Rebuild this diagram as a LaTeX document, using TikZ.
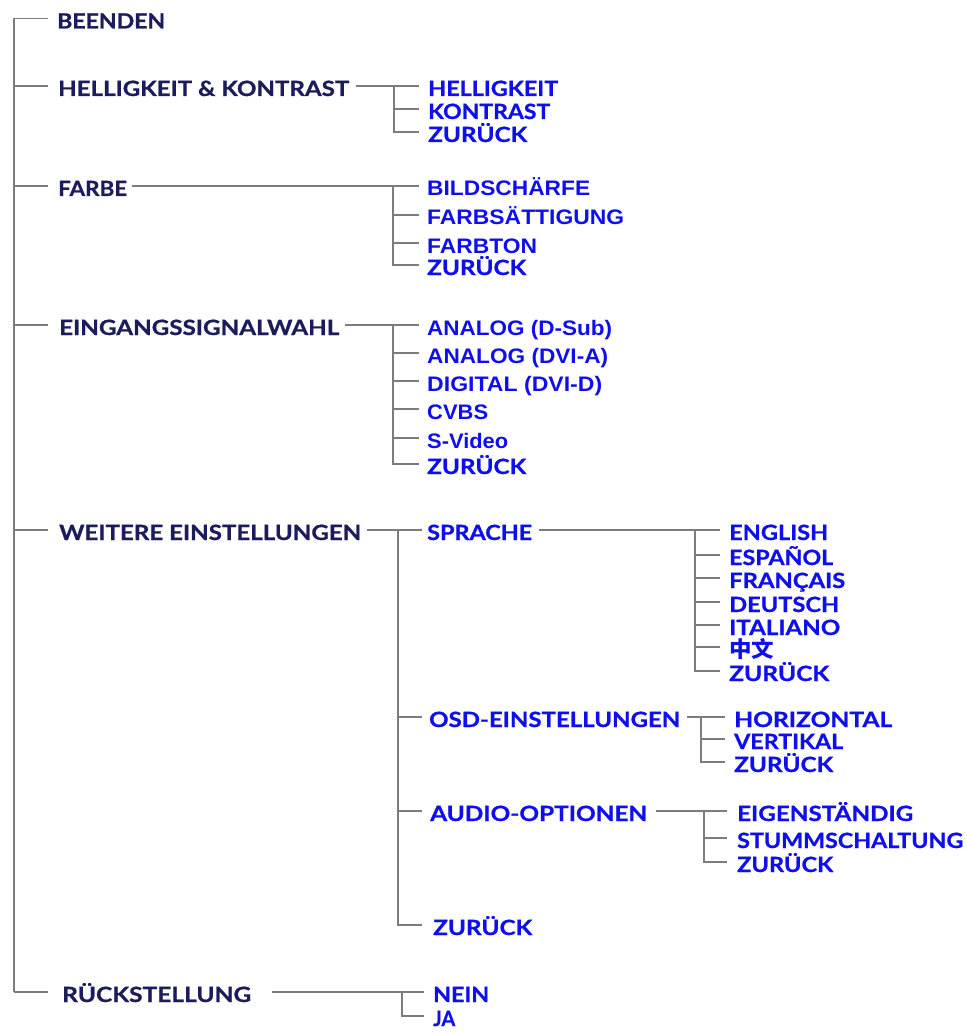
\documentclass[tikz,border=0pt]{standalone}
\usepackage{graphicx}
\usepackage{fontspec}
\newfontfamily\gill{Lato}[BoldFeatures={FakeBold=0.8}]
\newfontfamily\arial{Liberation Sans}
\newfontfamily\cjk{Noto Sans CJK SC}
\definecolor{navy}{RGB}{28,28,92}
\definecolor{menublue}{RGB}{15,15,235}
\definecolor{linegray}{RGB}{125,125,125}
\newcommand\fw[2]{\resizebox{#1pt}{\height}{#2}}
\tikzset{
  ln/.style={draw=linegray, line width=1.4pt},
  lbl/.style={inner sep=0pt, anchor=west, text height=20pt, text depth=0pt,
    font=\gill\bfseries\fontsize{21}{25}\selectfont},
  topitem/.style={lbl, text=navy},
  subitem/.style={lbl, text=menublue},
  subarial/.style={subitem, font=\arial\bfseries\fontsize{21}{25}\selectfont},
  subarialb/.style={subitem, font=\arial\bfseries\fontsize{21}{25}\selectfont},
  subcjk/.style={subitem, font=\cjk\bfseries\fontsize{22}{25}\selectfont}
}
\begin{document}
\begin{tikzpicture}[x=1pt,y=-1pt]
\useasboundingbox (0,0) rectangle (966,1032);
\fill[white] (0,0) rectangle (966,1032);

% ---------- top level ----------
\node[topitem] (beenden) at (57,18.5) {\fw{108}{BEENDEN}};
\node[topitem] (hk) at (58,86) {\fw{291}{HELLIGKEIT \& KONTRAST}};
\node[topitem] (farbe) at (58,186) {\fw{69}{FARBE}};
\node[topitem] (ein) at (59,325) {\fw{280}{EINGANGSSIGNALWAHL}};
\node[topitem] (wei) at (59,530) {\fw{302}{WEITERE EINSTELLUNGEN}};
\node[topitem] (rs) at (62,992) {\fw{189}{RÜCKSTELLUNG}};

% ---------- Helligkeit & Kontrast ----------
\node[subitem] (hkA) at (428,86) {\fw{130}{HELLIGKEIT}};
\node[subitem] (hkB) at (428,109) {\fw{122}{KONTRAST}};
\node[subitem] (hkC) at (428,132) {\fw{99}{ZURÜCK}};

% ---------- Farbe ----------
\node[subarialb] (fA) at (427,186) {\fw{163}{BILDSCHÄRFE}};
\node[subarialb] (fB) at (427,215) {\fw{197}{FARBSÄTTIGUNG}};
\node[subarialb] (fC) at (427,243) {\fw{110}{FARBTON}};
\node[subitem] (fD) at (427,265) {\fw{99}{ZURÜCK}};

% ---------- Eingangssignalwahl ----------
\node[subarial] (eA) at (427,325) {\fw{185}{ANALOG (D-Sub)}};
\node[subarial] (eB) at (427,353) {\fw{181}{ANALOG (DVI-A)}};
\node[subarial] (eC) at (427,381) {\fw{175}{DIGITAL (DVI-D)}};
\node[subarialb] (eD) at (427,409) {\fw{61}{CVBS}};
\node[subarial] (eE) at (427,438) {\fw{81}{S-Video}};
\node[subitem] (eF) at (427,464) {\fw{99}{ZURÜCK}};

% ---------- Weitere Einstellungen ----------
\node[subitem] (sp) at (427,530) {\fw{105}{SPRACHE}};
\node[subitem] (spA) at (729,530) {\fw{99}{ENGLISH}};
\node[subitem] (spB) at (729,555) {\fw{104}{ESPAÑOL}};
\node[subitem] (spC) at (729,578) {\fw{116}{FRANÇAIS}};
\node[subitem] (spD) at (729,602) {\fw{110}{DEUTSCH}};
\node[subitem] (spE) at (729,625) {\fw{111}{ITALIANO}};
\node[subcjk] (spF) at (729,647) {\fw{45}{中文}};
\node[subitem] (spG) at (729,671) {\fw{100}{ZURÜCK}};

\node[subitem] (osd) at (429,717) {\fw{251}{OSD-EINSTELLUNGEN}};
\node[subitem] (oA) at (734,717) {\fw{158}{HORIZONTAL}};
\node[subitem] (oB) at (734,739) {\fw{109}{VERTIKAL}};
\node[subitem] (oC) at (734,762) {\fw{99}{ZURÜCK}};

\node[subitem] (aud) at (430,811) {\fw{217}{AUDIO-OPTIONEN}};
\node[subitem] (aA) at (737,811) {\fw{176}{EIGENSTÄNDIG}};
\node[subitem] (aB) at (737,838) {\fw{226}{STUMMSCHALTUNG}};
\node[subitem] (aC) at (737,862) {\fw{96}{ZURÜCK}};

\node[subitem] (wz) at (433,925) {\fw{99}{ZURÜCK}};

% ---------- Rückstellung ----------
\node[subitem] (nA) at (433,992) {\fw{56}{NEIN}};
\node[subitem] (nB) at (433,1016) {\fw{22}{JA}};

% ---------- helper coordinates ----------
\coordinate (trunk) at (14,0);
\coordinate (tend) at (48,0);
\coordinate (hkv) at (394,0);  \coordinate (hke) at (419,0);
\coordinate (fv) at (393,0);   \coordinate (fe) at (419,0);
\coordinate (ev) at (393,0);   \coordinate (ee) at (419,0);
\coordinate (wv) at (398,0);   \coordinate (we) at (422,0);
\coordinate (sv) at (695,0);   \coordinate (se) at (720,0);
\coordinate (ov) at (701,0);   \coordinate (oe) at (725,0);
\coordinate (av) at (704,0);   \coordinate (ae) at (727,0);
\coordinate (rv) at (402,0);   \coordinate (re) at (424,0);

% ---------- main trunk ----------
\draw[ln] (trunk |- beenden.west) -- (trunk |- rs.west);
\foreach \n in {beenden,hk,farbe,ein,wei,rs}
  \draw[ln] (trunk |- \n.west) -- (tend |- \n.west);

% ---------- Helligkeit & Kontrast ----------
\draw[ln] ([xshift=7pt]hk.east) -- (hke |- hkA.west);
\draw[ln] (hkv |- hkA.west) |- (hke |- hkC.west);
\draw[ln] (hkv |- hkB.west) -- (hke |- hkB.west);

% ---------- Farbe ----------
\draw[ln] ([xshift=5pt]farbe.east) -- (fe |- fA.west);
\draw[ln] (fv |- fA.west) |- (fe |- fD.west);
\foreach \n in {fB,fC}
  \draw[ln] (fv |- \n.west) -- (fe |- \n.west);

% ---------- Eingangssignalwahl ----------
\draw[ln] ([xshift=6pt]ein.east) -- (ee |- eA.west);
\draw[ln] (ev |- eA.west) |- (ee |- eF.west);
\foreach \n in {eB,eC,eD,eE}
  \draw[ln] (ev |- \n.west) -- (ee |- \n.west);

% ---------- Weitere Einstellungen ----------
\draw[ln] ([xshift=6pt]wei.east) -- (we |- sp.west);
\draw[ln] (wv |- sp.west) |- (we |- wz.west);
\foreach \n in {osd,aud}
  \draw[ln] (wv |- \n.west) -- (we |- \n.west);

% Sprache
\draw[ln] ([xshift=7pt]sp.east) -- (se |- spA.west);
\draw[ln] (sv |- spA.west) |- (se |- spG.west);
\foreach \n in {spB,spC,spD,spE,spF}
  \draw[ln] (sv |- \n.west) -- (se |- \n.west);

% OSD
\draw[ln] ([xshift=7pt]osd.east) -- (oe |- oA.west);
\draw[ln] (ov |- oA.west) |- (oe |- oC.west);
\draw[ln] (ov |- oB.west) -- (oe |- oB.west);

% Audio
\draw[ln] ([xshift=9pt]aud.east) -- (ae |- aA.west);
\draw[ln] (av |- aA.west) |- (ae |- aC.west);
\draw[ln] (av |- aB.west) -- (ae |- aB.west);

% ---------- Rückstellung ----------
\draw[ln] ([xshift=21pt]rs.east) -- (re |- nA.west);
\draw[ln] (rv |- nA.west) |- (re |- nB.west);
\end{tikzpicture}
\end{document}
